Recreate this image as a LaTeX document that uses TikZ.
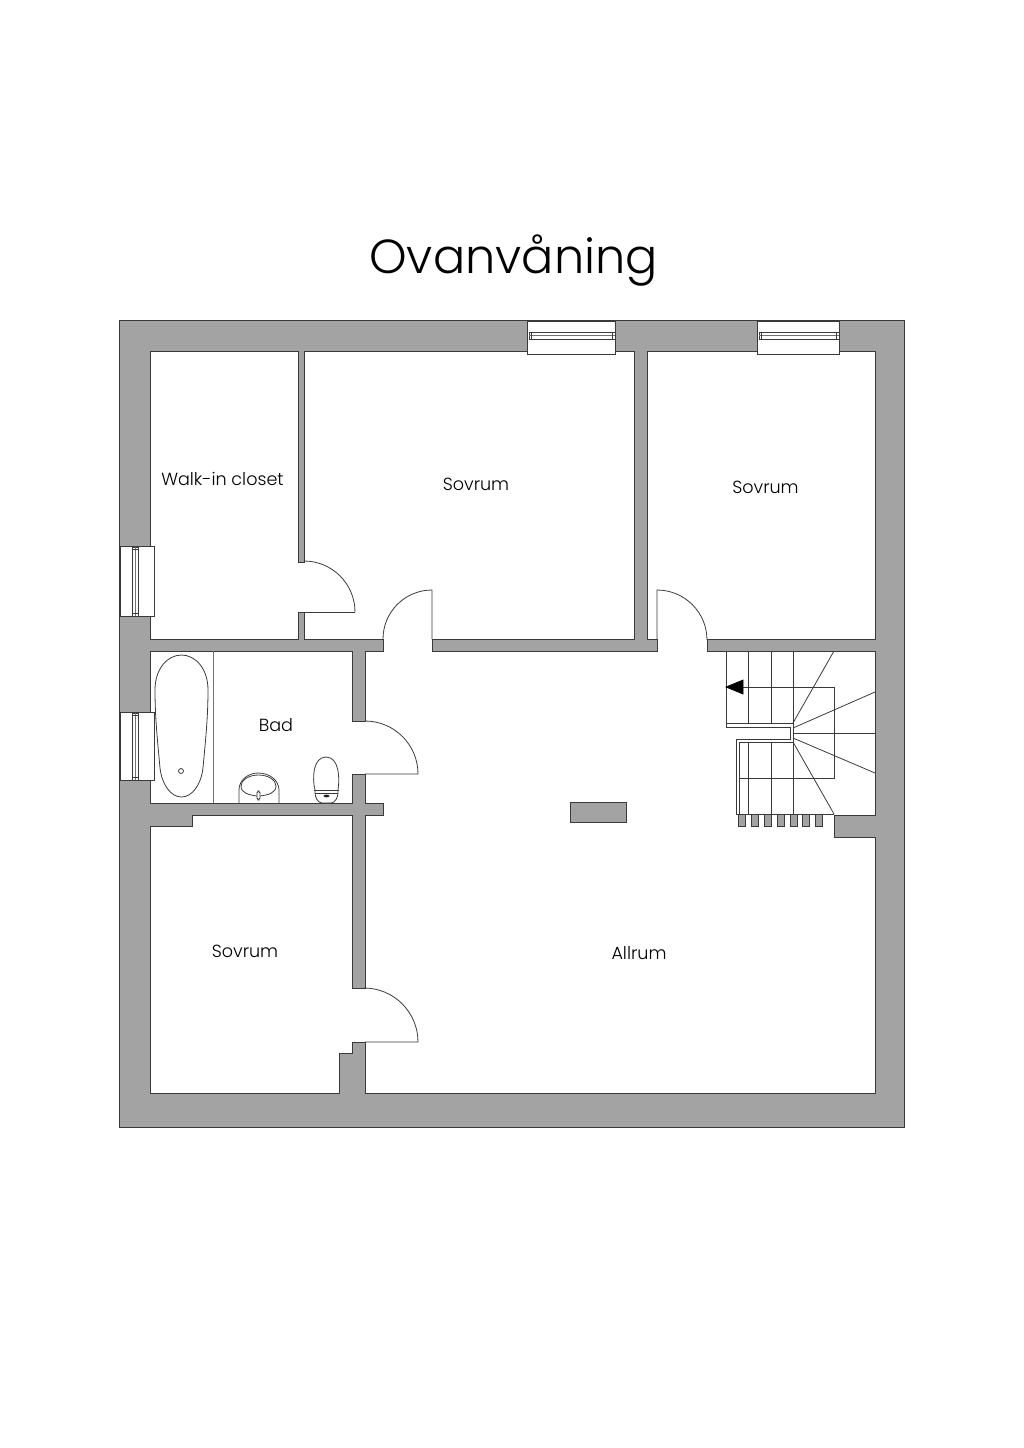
\documentclass[tikz,border=0pt]{standalone}
\usepackage{fontspec}
\setmainfont{Poppins}[UprightFont=* Light]
\usepackage{tikz}
\definecolor{wallgray}{HTML}{A3A3A3}
\definecolor{walledge}{HTML}{3A3A3A}
\tikzset{
	plan/.style={draw=walledge,line width=0.45pt},
	pale/.style={draw=black!55,line width=0.5pt},
	roomlabel/.style={font=\fontsize{10}{12}\selectfont,text=black,inner sep=0pt}
}
% window in a wall: outer box and the glass bar
\def\hwindow(#1,#2,#3,#4,#5){%
	\draw[plan,fill=white] (#1,#3) rectangle (#2,#4);
	\draw[plan,fill=white] (#1+2,#5) rectangle (#2,#5+7);
	\draw[pale] (#1+2,#5+3.5) -- (#2,#5+3.5);
	\draw[plan] (#1+4,#5) -- (#1+4,#5+7);
	\draw[plan] (#2-3,#5) -- (#2-3,#5+7);
}
\def\vwindow(#1,#2,#3,#4,#5){%
	\draw[plan,fill=white] (#1,#3) rectangle (#2,#4);
	\draw[plan,fill=white] (#5,#3+1) rectangle (#5+6,#4);
	\draw[pale] (#5+3,#3+1) -- (#5+3,#4);
	\draw[plan] (#5,#3+3) -- (#5+6,#3+3);
	\draw[plan] (#5,#4-3) -- (#5+6,#4-3);
}
\begin{document}
\begin{tikzpicture}[x=0.02cm,y=0.02cm,yscale=-1]
		%%%%% START %%%%%
		\useasboundingbox (0,0) rectangle (1024,1448);
		
		\node[font=\fontsize{27.2}{32}\selectfont,inner sep=0pt] (title) at (513.5,260.5) {Ovanvåning};
		
		% walls
		\draw[plan,fill=wallgray] (119.5,320.5) rectangle (904.5,1127.5);
		
		% all rooms, one outline round the walls
		\draw[plan,fill=white] (150,351) -- (298,351) -- (298,562) -- (304,562) -- (304,351) -- (634,351)
			-- (634,639) -- (432,639) -- (432,651) -- (657,651) -- (657,639) -- (647,639) -- (647,351)
			-- (875,351) -- (875,639) -- (707,639) -- (707,651) -- (875,651) -- (875,815) -- (834,815)
			-- (834,837) -- (875,837) -- (875,1093) -- (365,1093) -- (365,1042) -- (352,1042) -- (352,1053)
			-- (339,1053) -- (339,1093) -- (150,1093) -- (150,826) -- (192,826) -- (192,815) -- (352,815)
			-- (352,988) -- (365,988) -- (365,815) -- (383,815) -- (383,803) -- (365,803) -- (365,774)
			-- (352,774) -- (352,803) -- (150,803) -- (150,651) -- (352,651) -- (352,721) -- (365,721)
			-- (365,651) -- (383,651) -- (383,639) -- (304,639) -- (304,612) -- (298,612) -- (298,639)
			-- (150,639) -- cycle;
		
		% chimney
		\draw[plan,fill=wallgray] (570,802) rectangle (626,822);
		
		% windows
		\hwindow(527,615,321,354,332)
		\hwindow(757,839,321,354,332)
		\vwindow(120,154,546,616,132)
		\vwindow(120,154,712,780,132)
		
		% doors
		\draw[plan] (298,612) -- (355,612);
		\draw[plan] (304,561) arc (-90:0:51);
		\draw[plan] (432,639) -- (432,590) arc (-90:-180:49);
		\draw[plan] (657,639) -- (657,590) arc (-90:0:50);
		\draw[plan] (365,774) -- (418,774) arc (0:-90:53);
		\draw[plan] (365,1042) -- (418,1042) arc (0:-90:54);
		
		% bath
		\draw[pale] (213,651) -- (213,803);
		\draw[plan] (155,690) .. controls (155,668) and (168,655) .. (181.5,655)
			.. controls (195,655) and (208,668) .. (208,690)
			.. controls (208,720) and (205,745) .. (203,768)
			.. controls (201,785) and (192,797) .. (181.5,797)
			.. controls (171,797) and (162,785) .. (160,768)
			.. controls (158,745) and (155,720) .. (155,690);
		\draw[plan] (181,771) circle (2.5);
		
		% sink
		\draw[plan] (239,803) -- (239,790) .. controls (239,780) and (248,773) .. (258.5,773)
			.. controls (269,773) and (279,780) .. (279,790) -- (279,803);
		\draw[plan] (241,786) .. controls (241,780) and (249,775) .. (258.5,775)
			.. controls (268,775) and (276,780) .. (276,786)
			.. controls (276,793) and (268,795) .. (260,796) -- (257,796)
			.. controls (249,795) and (241,793) .. (241,786);
		\draw[plan,fill=white,rounded corners=1pt] (257,791) rectangle (260,800);
		
		% toilet
		\draw[plan] (315,790) .. controls (312,778) and (313,757) .. (326,757)
			.. controls (339,757) and (340,778) .. (338,790);
		\draw[plan] (314,790) -- (339,790);
		\draw[plan] (315,793) -- (338,793);
		\draw[plan] (315,790) -- (315,793) .. controls (315,797) and (318,803) .. (322,803) -- (331,803)
			.. controls (335,803) and (338,797) .. (338,793) -- (338,790);
		\draw[plan,fill=black] (326.5,796) ellipse (2.5 and 1);
		
		% stairs
		\draw[plan] (726,651) -- (726,727) -- (790,727) -- (790,739) -- (736,739) -- (736,814);
		\draw[plan] (739,814) -- (739,742) -- (793,742) -- (793,723) -- (726,723);
		\foreach \stepx in {748,771,793} {
			\draw[plan] (\stepx,651) -- (\stepx,723);
			\draw[plan] (\stepx,742) -- (\stepx,814);
		}
		\draw[plan] (739,778) -- (834,778) -- (834,687) -- (726,687);
		\draw[plan] (793,723) -- (834,651);
		\draw[plan] (793,728) -- (875,692);
		\draw[plan] (793,733) -- (875,733);
		\draw[plan] (793,738) -- (875,773);
		\draw[plan] (793,742) -- (834,814);
		\draw[plan] (736,814) -- (834,814);
		\draw[fill=black] (726,687) -- (743,680) -- (743,694) -- cycle;
		
		% pins under the stairs
		\foreach \pinx in {738,751,764,777,790,802,815} {
			\draw[plan,fill=wallgray] (\pinx,814) rectangle (\pinx+7,826);
		}
		
		% labels
		\node[roomlabel] (closet) at (222.5,479) {Walk-in closet};
		\node[roomlabel] (sovrumA) at (476,484) {Sovrum};
		\node[roomlabel] (sovrumB) at (765.5,487) {Sovrum};
		\node[roomlabel] (bad) at (276,725) {Bad};
		\node[roomlabel] (sovrumC) at (245,951) {Sovrum};
		\node[roomlabel] (allrum) at (639,953) {Allrum};
		%%%%% END %%%%%
	\end{tikzpicture}
\end{document}
